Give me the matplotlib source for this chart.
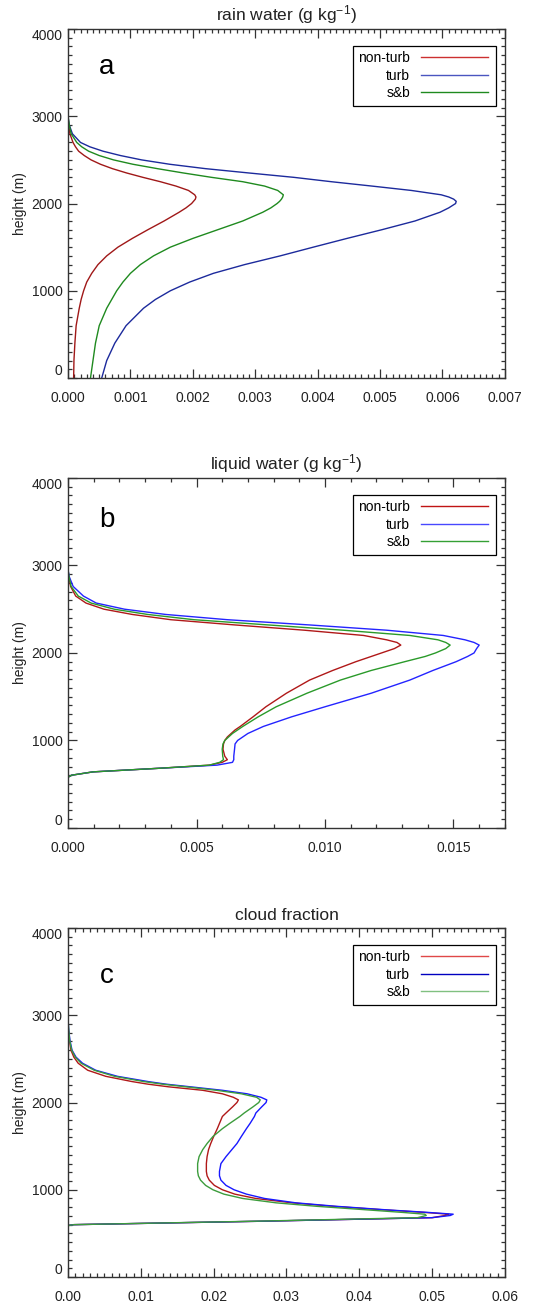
"""Vertical profiles of rain water, liquid water and cloud fraction
for the non-turb / turb / s&b runs (three stacked panels)."""
import matplotlib
matplotlib.use("Agg")
import matplotlib.pyplot as plt
from matplotlib.lines import Line2D
from matplotlib.legend_handler import HandlerBase
from matplotlib.ticker import MultipleLocator, FormatStrFormatter

# ---- data ----
RAIN_H = [0, 200, 400, 600, 800, 900, 1000, 1100, 1200, 1300, 1400, 1500, 1600, 1700,
          1800, 1900, 1950, 2000, 2025, 2050, 2075, 2100, 2150, 2200, 2250, 2300, 2350,
          2400, 2450, 2500, 2550, 2600, 2650, 2700, 2800, 2900, 3000, 4000]
RAIN_NONTURB = [0.00009, 0.000095, 0.00011, 0.00013, 0.00018, 0.00021, 0.00025, 0.0003,
                0.00038, 0.00048, 0.00062, 0.0008, 0.00103, 0.00128, 0.00154, 0.00178,
                0.00189, 0.00198, 0.00201, 0.00204, 0.00205, 0.00203, 0.00193, 0.00173,
                0.00148, 0.0012, 0.00094, 0.00071, 0.00052, 0.00037, 0.00026, 0.00017,
                0.00012, 0.00008, 0.00003, 0.00001, 0.0, 0.0]
RAIN_TURB = [0.00054, 0.00062, 0.00075, 0.00093, 0.00121, 0.0014, 0.00164, 0.00195,
             0.00233, 0.00283, 0.0034, 0.00393, 0.00447, 0.00503, 0.00556, 0.00596,
             0.0061, 0.00621, 0.00622, 0.00618, 0.0061, 0.00598, 0.0055, 0.00487,
             0.00422, 0.00362, 0.0029, 0.0022, 0.00163, 0.00118, 0.00084, 0.00056,
             0.00035, 0.0002, 0.00007, 0.00002, 0.0, 0.0]
RAIN_SB = [0.00036, 0.0004, 0.00044, 0.0005, 0.00062, 0.0007, 0.00078, 0.00088, 0.001,
           0.00116, 0.00137, 0.00164, 0.002, 0.0024, 0.0028, 0.00312, 0.00325, 0.00335,
           0.00339, 0.00342, 0.00344, 0.00345, 0.00336, 0.00315, 0.0028, 0.0023,
           0.00185, 0.00143, 0.00104, 0.00073, 0.0005, 0.00033, 0.00022, 0.00014,
           0.00005, 0.00002, 0.0, 0.0]

LIQ_H = [0, 580, 603, 641, 683, 718, 750, 780, 820, 900, 960, 1000, 1040, 1080, 1120,
         1160, 1270, 1385, 1540, 1690, 1800, 1900, 1960, 2000, 2050, 2090, 2120, 2150,
         2200, 2260, 2320, 2380, 2440, 2500, 2570, 2650, 2760, 2870, 2950, 4000]
LIQ_NONTURB = [0, 0, 0.00014, 0.00097, 0.0036, 0.0055, 0.006, 0.0062, 0.0061, 0.00603,
               0.00605, 0.0061, 0.0062, 0.00635, 0.0065, 0.0067, 0.0072, 0.0077, 0.0085,
               0.0094, 0.0103, 0.0112, 0.0118, 0.0122, 0.0127, 0.01295, 0.0128, 0.0124,
               0.0115, 0.0092, 0.0065, 0.004, 0.0025, 0.0014, 0.0007, 0.0003, 0.0001,
               0.00003, 0, 0]
LIQ_TURB = [0, 0, 0.00014, 0.00097, 0.0036, 0.0058, 0.0064, 0.00645, 0.00645, 0.00648,
            0.0065, 0.0066, 0.0068, 0.007, 0.0073, 0.0076, 0.0087, 0.01, 0.0118, 0.0133,
            0.0142, 0.0151, 0.01555, 0.0158, 0.0159, 0.016, 0.0158, 0.01545, 0.0146,
            0.0124, 0.0094, 0.0062, 0.0038, 0.0022, 0.0011, 0.0006, 0.0002, 0.00005,
            0, 0]
LIQ_SB = [0, 0, 0.00014, 0.00097, 0.0036, 0.0055, 0.0059, 0.00605, 0.00602, 0.006,
          0.00603, 0.0061, 0.00625, 0.0064, 0.0066, 0.0068, 0.0074, 0.0081, 0.0093,
          0.0106, 0.0118, 0.0131, 0.0139, 0.0143, 0.0147, 0.01487, 0.0147, 0.0144,
          0.0133, 0.0107, 0.0078, 0.0049, 0.0031, 0.0018, 0.0009, 0.0004, 0.00012,
          0.00004, 0, 0]

CF_H = [0, 570, 590, 600, 640, 680, 705, 720, 740, 770, 810, 850, 900, 950, 1000, 1050,
        1110, 1160, 1210, 1300, 1380, 1460, 1530, 1610, 1700, 1760, 1800, 1840, 1880,
        1950, 2000, 2030, 2060, 2100, 2140, 2180, 2210, 2240, 2300, 2370, 2450, 2520,
        2600, 2710, 2830, 2950, 4000]
CF_NONTURB = [0, 0, 0, 0.0008, 0.027, 0.05, 0.0518, 0.0523, 0.049, 0.0433, 0.0364,
              0.0308, 0.0258, 0.0229, 0.0212, 0.0201, 0.0194, 0.0191, 0.019, 0.019,
              0.0191, 0.0193, 0.0196, 0.02, 0.0205, 0.0208, 0.021, 0.0212, 0.0217,
              0.0226, 0.0232, 0.0234, 0.0227, 0.0212, 0.0185, 0.0138, 0.011, 0.0088,
              0.0052, 0.0027, 0.0014, 0.0008, 0.0004, 0.0002, 0.00005, 0, 0]
CF_TURB = [0, 0, 0, 0.0008, 0.027, 0.05, 0.0525, 0.0529, 0.0495, 0.0437, 0.0369,
           0.0313, 0.027, 0.0245, 0.0228, 0.0217, 0.021, 0.0208, 0.0208, 0.021, 0.0217,
           0.0225, 0.0232, 0.0238, 0.0245, 0.025, 0.0253, 0.0256, 0.0258, 0.0266,
           0.0272, 0.0273, 0.0265, 0.0246, 0.0212, 0.0168, 0.0135, 0.011, 0.0068,
           0.0038, 0.002, 0.0011, 0.00055, 0.00027, 0.0001, 0, 0]
CF_SB = [0, 0, 0, 0.0008, 0.026, 0.048, 0.0492, 0.049, 0.046, 0.041, 0.0342, 0.0286,
         0.024, 0.0214, 0.0199, 0.0189, 0.0182, 0.0179, 0.0178, 0.0178, 0.018, 0.0185,
         0.0191, 0.0199, 0.0212, 0.0222, 0.0229, 0.0236, 0.0242, 0.0254, 0.0262,
         0.0264, 0.0259, 0.0238, 0.0204, 0.0162, 0.013, 0.0104, 0.0064, 0.0036,
         0.0018, 0.001, 0.0005, 0.00023, 0.0001, 0, 0]

LABELS = ["non-turb", "turb", "s&b"]
Y_TICKS = [0, 1000, 2000, 3000, 4000]

INK = "#222222"

plt.rcParams.update({
    "font.family": ["Liberation Sans", "DejaVu Sans"],
    "mathtext.fontset": "custom",
    "mathtext.rm": "Liberation Sans",
    "mathtext.it": "Liberation Sans:italic",
    "axes.edgecolor": "#333333", "axes.linewidth": 1.0,
    "xtick.color": "#333333", "ytick.color": "#333333",
    "xtick.labelcolor": INK, "ytick.labelcolor": INK,
})


class ShortLine(HandlerBase):
    """IDL-style legend sample: line on the right, not filling the whole slot."""
    def create_artists(self, legend, orig, xdescent, ydescent, width, height,
                       fontsize, trans):
        y = height / 2 - ydescent
        line = Line2D([-xdescent, -xdescent + 0.97 * width], [y, y],
                      color=orig.get_color(), lw=orig.get_linewidth(), transform=trans)
        return [line]


def panel(fig, rect, h, series, line_cols, leg_cols, xmax, xmajor, xminor, xfmt,
          title, letter, letter_y):
    ax = fig.add_axes(rect)
    for xs, col in zip(series, line_cols):
        ax.plot(xs, h, color=col, lw=1.0, solid_joinstyle="round")
    ax.set_xlim(0, xmax)
    ax.set_ylim(0, 4000)
    ax.xaxis.set_major_locator(MultipleLocator(xmajor))
    ax.xaxis.set_minor_locator(MultipleLocator(xminor))
    ax.xaxis.set_major_formatter(FormatStrFormatter(xfmt))
    ax.set_yticks(Y_TICKS)
    ax.yaxis.set_minor_locator(MultipleLocator(100))
    ax.tick_params(which="both", direction="in", top=True, right=True, width=0.9)
    ax.tick_params(which="major", length=6.5)
    ax.tick_params(which="minor", length=3.2)
    ax.tick_params(axis="x", labelsize=10, pad=9.5)
    ax.tick_params(axis="y", labelsize=10, pad=4)
    ylabs = ax.get_yticklabels()
    ylabs[0].set_va("bottom")
    ylabs[-1].set_va("top")
    ax.set_ylabel("height (m)", fontsize=10, color=INK, labelpad=3)
    ax.set_title(title, fontsize=12.5, color=INK, pad=6)
    ax.text(0.089, letter_y, letter, transform=ax.transAxes, fontsize=20,
            ha="center", va="baseline", color="black")
    handles = [Line2D([0], [0], color=c, lw=1.0) for c in leg_cols]
    leg = ax.legend(handles, LABELS, loc="upper right", bbox_to_anchor=(0.979, 0.952),
                    borderaxespad=0, markerfirst=False, fontsize=10, frameon=True,
                    fancybox=False, edgecolor="black", framealpha=1,
                    handlelength=5.0, handletextpad=0.75, labelspacing=0.25,
                    borderpad=0.4, handler_map={Line2D: ShortLine()})
    leg.get_frame().set_linewidth(0.9)
    return ax


fig = plt.figure(figsize=(5.53, 13.08), dpi=100)

panel(fig, [0.123, 0.711, 0.790, 0.2668], RAIN_H,
      [RAIN_NONTURB, RAIN_TURB, RAIN_SB],
      ["#a01818", "#1c2a9c", "#1f8a1f"], ["#cc3030", "#4a55c0", "#1f8a1f"],
      0.007, 0.001, 0.0001, "%.3f", r"rain water (g kg$^{\mathregular{-1}}$)", "a", 0.871)

panel(fig, [0.123, 0.367, 0.790, 0.2676], LIQ_H,
      [LIQ_NONTURB, LIQ_TURB, LIQ_SB],
      ["#b01818", "#2424ff", "#2a9a2a"], ["#c01414", "#4848ff", "#34a034"],
      0.017, 0.005, 0.001, "%.3f", r"liquid water (g kg$^{\mathregular{-1}}$)", "b", 0.86)

panel(fig, [0.123, 0.0237, 0.790, 0.2668], CF_H,
      [CF_NONTURB, CF_TURB, CF_SB],
      ["#b01818", "#1818ff", "#3c9c3c"], ["#e04848", "#0000c0", "#80c080"],
      0.06, 0.01, 0.001, "%.2f", "cloud fraction", "c", 0.842)

fig.savefig("out.png", dpi=100)
